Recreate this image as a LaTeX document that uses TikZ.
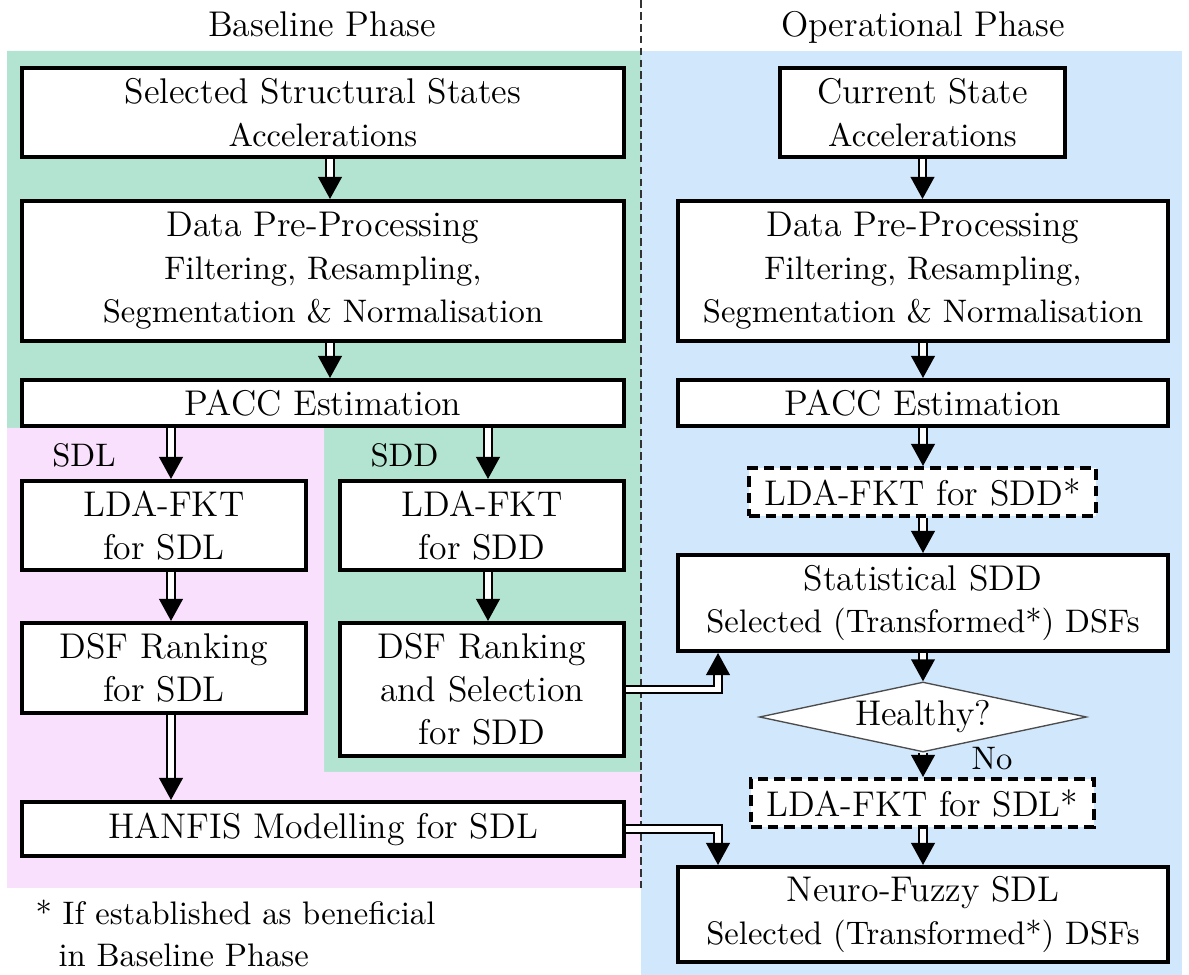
\documentclass[tikz,border=0pt]{standalone}
\usetikzlibrary{shapes.geometric,arrows.meta,calc}
\definecolor{bgreen}{RGB}{179,227,209}
\definecolor{bpink}{RGB}{249,224,252}
\definecolor{bblue}{RGB}{209,231,252}
\newcommand\mnf{\fontsize{12}{14.4}\selectfont}
\newcommand\smf{\fontsize{10.95}{14.4}\selectfont}
\pgfdeclarelayer{back}
\pgfdeclarelayer{arr}
\pgfsetlayers{back,arr,main}
\begin{document}
\begin{tikzpicture}[x=0.336pt,y=-0.336pt,
  box/.style 2 args={draw=black, line width=1.344pt, fill=white,
    minimum width=#1*0.336pt, minimum height=#2*0.336pt,
    inner sep=0pt, align=center, font=\mnf},
  dbox/.style 2 args={box={#1}{#2}, dash pattern=on 3.6pt off 2pt},
  arr/.style={draw=black, line width=0.8pt, double=white, double distance=1.75pt,
    -{Triangle[width=7.9pt,length=7.4pt]}},
  lbl/.style={font=\smf, inner sep=0pt, anchor=base},
  ttl/.style={font=\mnf, inner sep=0pt, anchor=base}]
\useasboundingbox (0,0) rectangle (1189,975);

% backgrounds
\begin{pgfonlayer}{back}
\fill[bgreen] (7,51) -- (641,51) -- (641,772) -- (324,772) -- (324,428) -- (7,428) -- cycle;
\fill[bpink] (7,428) -- (324,428) -- (324,772) -- (641,772) -- (641,888) -- (7,888) -- cycle;
\fill[bblue] (641,51) rectangle (1182,975);
\draw[black!80, line width=0.4pt, dash pattern=on 2.6pt off 1.4pt] (641,0) -- (641,888);
\end{pgfonlayer}

% titles
\node[ttl] (t1) at (322,37) {Baseline Phase};
\node[ttl] (t2) at (923,37) {Operational Phase};

% left column
\node[box={602}{89}] (b1) at (323,112.5) {Selected Structural States\\{\smf Accelerations}};
\node[box={602}{140}] (b2) at (323,271) {Data Pre-Processing\\{\smf Filtering, Resampling,}\\{\smf Segmentation \& Normalisation}};
\node[box={602}{46}] (pl) at (323,403) {PACC Estimation};
\node[box={284}{89}] (ldal) at (164,525.5) {LDA-FKT\\for SDL};
\node[box={284}{89}] (ldad) at (482,525.5) {LDA-FKT\\for SDD};
\node[box={284}{90}] (dsfl) at (164,668) {DSF Ranking\\for SDL};
\node[box={284}{133}] (dsfd) at (482,689.5) {DSF Ranking\\and Selection\\for SDD};
\node[box={602}{54}] (han) at (323,829) {HANFIS Modelling for SDL};
\node[lbl] (lsdl) at (84,467) {SDL};
\node[lbl] (lsdd) at (404.5,467) {SDD};

% right column
\node[box={285}{89}] (cs) at (922.5,112.5) {Current State\\{\smf Accelerations}};
\node[box={490}{140}] (dr) at (923,271) {Data Pre-Processing\\{\smf Filtering, Resampling,}\\{\smf Segmentation \& Normalisation}};
\node[box={490}{46}] (pr) at (923,403) {PACC Estimation};
\node[dbox={347}{48}] (lsd) at (922.5,492) {LDA-FKT for SDD*};
\node[box={490}{96}] (stat) at (923,603) {Statistical SDD\\{\smf Selected (Transformed*) DSFs}};
\node[diamond, draw=black!70, line width=0.45pt, fill=white, aspect=4.67,
  minimum width=109.9pt, minimum height=23.5pt, inner sep=0pt, font=\mnf] (hl) at (923,717) {Healthy?};
\node[lbl] (no) at (992,770) {No};
\node[dbox={343}{48}] (lsl) at (922.5,803) {LDA-FKT for SDL*};
\node[box={490}{95}] (nf) at (923,914.5) {Neuro-Fuzzy SDL\\{\smf Selected (Transformed*) DSFs}};

% footnote
\node[lbl, anchor=base west] (f1) at (35,925) {* If established as beneficial};
\node[lbl, anchor=base west] (f2) at (58,967) {in Baseline Phase};

% arrows
\begin{pgfonlayer}{arr}
\draw[arr] ($(b1.south)+(7,0)$) -- ($(b2.north)+(7,0)$);
\draw[arr] ($(b2.south)+(7,0)$) -- ($(pl.north)+(7,0)$);
\draw[arr] ($(pl.south -| ldal)+(7,0)$) -- ($(ldal.north)+(7,0)$);
\draw[arr] ($(pl.south -| ldad)+(6,0)$) -- ($(ldad.north)+(6,0)$);
\draw[arr] ($(ldal.south)+(7,0)$) -- ($(dsfl.north)+(7,0)$);
\draw[arr] ($(ldad.south)+(6,0)$) -- ($(dsfd.north)+(6,0)$);
\draw[arr] ($(dsfl.south)+(7,0)$) -- ($(han.north -| dsfl)+(7,0)$);
\draw[arr] (cs.south) -- (cs.south |- dr.north);
\draw[arr] (dr.south) -- (pr.north);
\draw[arr] (pr.south) -- (lsd.north -| pr);
\draw[arr] (lsd.south -| stat) -- (stat.north);
\draw[arr] (stat.south) -- (hl.north);
\draw[arr] (hl.south) -- (lsl.north -| hl);
\draw[arr] (lsl.south -| nf) -- (nf.north);
\draw[arr] (dsfd.east) -| ($(stat.south)+(-205,0)$);
\draw[arr] (han.east) -| ($(nf.north)+(-205,0)$);
\end{pgfonlayer}
\end{tikzpicture}
\end{document}
